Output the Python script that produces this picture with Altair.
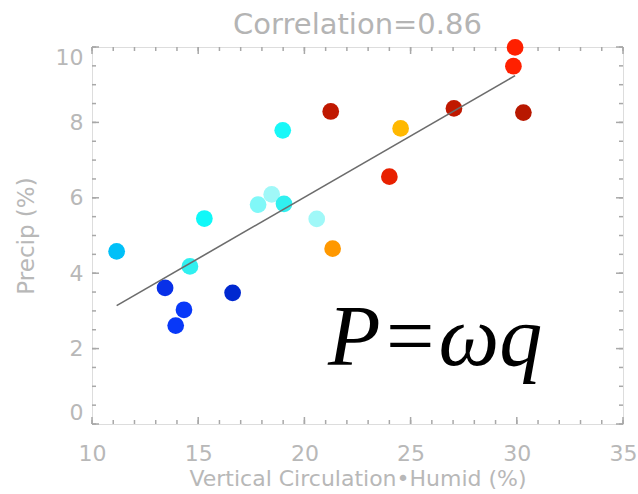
import altair as alt
import pandas as pd

# ---- data ----
x_vals = [11.16, 15.29, 14.61, 17.82, 13.44, 16.62, 14.33, 13.94, 21.24, 18.98,
          24.53, 24.00, 18.46, 19.04, 20.58, 21.33, 29.92, 29.84, 27.04, 30.31]
y_vals = [4.58, 5.45, 4.18, 5.82, 3.61, 3.48, 3.03, 2.61, 8.29, 7.79,
          7.84, 6.56, 6.09, 5.84, 5.44, 4.65, 9.99, 9.49, 8.37, 8.26]
point_colors = ["#00c0f8", "#10f8f8", "#30f0f0", "#80f8f8", "#0830e8", "#0028d0",
                "#0838f8", "#0838f8", "#c01800", "#18f8f8", "#ffb800", "#e82000",
                "#a0f8f8", "#30f0f0", "#a0f8f8", "#ff9800", "#ff2000", "#ff2000",
                "#c01800", "#b81800"]

fit_x = [11.16, 29.92]
fit_y = [3.14, 9.24]

x_minor_ticks = [10, 11, 12, 13, 14, 15, 16, 17, 18, 19, 20, 21, 22, 23, 24, 25,
                 26, 27, 28, 29, 30, 31, 32, 33, 34, 35]
x_major_ticks = [10, 15, 20, 25, 30, 35]
y_minor_ticks = [0, 0.5, 1, 1.5, 2, 2.5, 3, 3.5, 4, 4.5, 5, 5.5, 6, 6.5, 7, 7.5,
                 8, 8.5, 9, 9.5, 10]
y_major_ticks = [0, 2, 4, 6, 8, 10]

title_text = "Correlation=0.86"
x_title = "Vertical Circulation\u2022Humid (%)"
y_title = "Precip (%)"
formula_text = ["P=\u03c9q"]
formula_x = [21.11]
formula_y = [1.57]

W, H = 531, 377
GRAY_TXT = "#b8b8b8"
TICK_COL = "#a8a8a8"

pts = pd.DataFrame({"x": x_vals, "y": y_vals, "c": point_colors})
fit = pd.DataFrame({"x": fit_x, "y": fit_y})
xmin = pd.DataFrame({"t": x_minor_ticks})
xmaj = pd.DataFrame({"t": x_major_ticks})
ymin = pd.DataFrame({"t": y_minor_ticks})
ymaj = pd.DataFrame({"t": y_major_ticks})
ann = pd.DataFrame({"x": formula_x, "y": formula_y, "txt": formula_text})

xscale = alt.Scale(domain=[10, 35], nice=False, zero=False)
yscale = alt.Scale(domain=[0, 10], nice=False, zero=False)

xaxis = alt.Axis(values=x_major_ticks, title=x_title, ticks=False, domain=False,
                 grid=False, labelFlush=False, labelPadding=19, titlePadding=4,
                 labelFont="DejaVu Sans", labelFontSize=22, labelColor=GRAY_TXT,
                 titleFont="DejaVu Sans", titleFontSize=22, titleColor=GRAY_TXT,
                 titleFontWeight="normal")
yaxis = alt.Axis(values=y_major_ticks, title=y_title, ticks=False, domain=False,
                 grid=False, labelFlush=True, labelPadding=9, titlePadding=17,
                 labelFont="DejaVu Sans", labelFontSize=22, labelColor=GRAY_TXT,
                 titleFont="DejaVu Sans", titleFontSize=23, titleColor=GRAY_TXT,
                 titleFontWeight="normal")

points = alt.Chart(pts).mark_circle(size=280, opacity=1).encode(
    x=alt.X("x:Q", scale=xscale, axis=xaxis),
    y=alt.Y("y:Q", scale=yscale, axis=yaxis),
    color=alt.Color("c:N", scale=None),
    order=alt.Order("idx:Q"),
).transform_window(idx="row_number()")

line = alt.Chart(fit).mark_line(color="#6c6c6c", strokeWidth=1.6).encode(
    x=alt.X("x:Q", scale=xscale),
    y=alt.Y("y:Q", scale=yscale),
)


def xticks(df, length):
    base = alt.Chart(df).mark_rule(color=TICK_COL, strokeWidth=1.5)
    bottom = base.encode(x=alt.X("t:Q", scale=xscale), y=alt.value(H), y2=alt.value(H - length))
    top = base.encode(x=alt.X("t:Q", scale=xscale), y=alt.value(0), y2=alt.value(length))
    return [bottom, top]


def yticks(df, length):
    base = alt.Chart(df).mark_rule(color=TICK_COL, strokeWidth=1.5)
    left = base.encode(y=alt.Y("t:Q", scale=yscale), x=alt.value(0), x2=alt.value(length))
    right = base.encode(y=alt.Y("t:Q", scale=yscale), x=alt.value(W), x2=alt.value(W - length))
    return [left, right]


tick_layers = xticks(xmin, 4) + xticks(xmaj, 7) + yticks(ymin, 4) + yticks(ymaj, 7)

formula = alt.Chart(ann).mark_text(
    align="left", baseline="alphabetic", font="Liberation Serif",
    fontStyle="italic", fontSize=86, color="black"
).encode(
    x=alt.X("x:Q", scale=xscale),
    y=alt.Y("y:Q", scale=yscale),
    text="txt:N",
)

chart = alt.layer(*tick_layers, points, line, formula).properties(
    width=W, height=H,
    title=alt.TitleParams(title_text, font="DejaVu Sans", fontSize=29,
                          color="#b4b4b4", fontWeight="normal", offset=-1,
                          anchor="middle"),
    padding={"left": 92, "top": 47, "right": 15, "bottom": 70},
    autosize=alt.AutoSizeParams(type="none"),
).configure_view(stroke="#cccccc", strokeWidth=3).configure(background="white")

chart.save("out.html", embed_options={"renderer": "svg", "actions": False})
